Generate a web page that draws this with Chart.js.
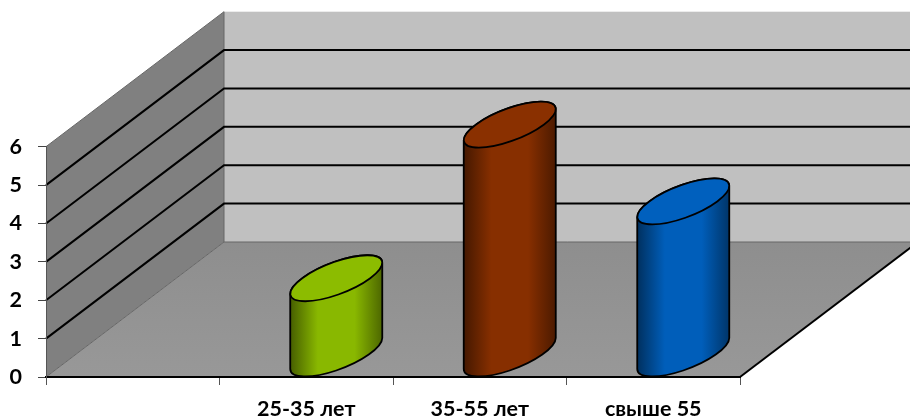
<!DOCTYPE html>
<html>
<head>
<meta charset="utf-8">
<title>Chart</title>
<script src="https://cdn.jsdelivr.net/npm/chart.js@4"></script>
<style>
  html, body { margin: 0; padding: 0; background: #fff; overflow: hidden; }
  canvas { display: block; }
</style>
</head>
<body>
<canvas id="ageChart" width="910" height="418"></canvas>
<script>
const categories = ['', '25-35 лет', '35-55 лет', 'свыше 55'];
const values = [null, 2, 6, 4];
const yTicks = [0, 1, 2, 3, 4, 5, 6];
const barColors = ['#8cbc00', '#8cbc00', '#8a3000', '#0060be'];

// how far the floor and the walls run back into the picture
const depthX = 178;
const depthY = 135;

// cylinder ellipse, sheared along the same depth direction
const ellA = 34;
const ellB = 31;
const ellC = 23;
const barShift = 30;

const shade = (hex, k) => {
    const n = parseInt(hex.slice(1), 16);
    const ch = s => Math.round(((n >> s) & 255) * k);
    return `rgb(${ch(16)},${ch(8)},${ch(0)})`;
};

const room3d = {
    id: 'room3d',
    beforeDraw(chart) {
        const { ctx, chartArea: a, scales: { y } } = chart;
        const { left, right, top, bottom } = a;
        ctx.save();

        // back wall
        ctx.fillStyle = '#c0c0c0';
        ctx.fillRect(left + depthX, top - depthY, right - left, bottom - top);

        // side wall
        ctx.fillStyle = '#808080';
        ctx.beginPath();
        ctx.moveTo(left, bottom);
        ctx.lineTo(left, top);
        ctx.lineTo(left + depthX, top - depthY);
        ctx.lineTo(left + depthX, bottom - depthY);
        ctx.closePath();
        ctx.fill();

        // floor
        const floor = ctx.createLinearGradient(0, bottom - depthY, 0, bottom);
        floor.addColorStop(0, '#8e8e8e');
        floor.addColorStop(1, '#989898');
        ctx.fillStyle = floor;
        ctx.beginPath();
        ctx.moveTo(left, bottom);
        ctx.lineTo(right, bottom);
        ctx.lineTo(right + depthX, bottom - depthY);
        ctx.lineTo(left + depthX, bottom - depthY);
        ctx.closePath();
        ctx.fill();

        // soft edges
        ctx.strokeStyle = '#666';
        ctx.lineWidth = 1;
        ctx.beginPath();
        ctx.moveTo(left, bottom);
        ctx.lineTo(left + depthX, bottom - depthY);
        ctx.lineTo(right + depthX, bottom - depthY);
        ctx.moveTo(left + depthX, bottom - depthY);
        ctx.lineTo(left + depthX, top - depthY);
        ctx.moveTo(left, top);
        ctx.lineTo(left + depthX, top - depthY);
        ctx.stroke();

        // grid lines on both walls
        ctx.strokeStyle = '#000';
        ctx.lineWidth = 2;
        yTicks.filter(v => v > 0 && v < 6).forEach(v => {
            const py = y.getPixelForValue(v);
            ctx.beginPath();
            ctx.moveTo(left, py);
            ctx.lineTo(left + depthX, py - depthY);
            ctx.lineTo(right + depthX, py - depthY);
            ctx.stroke();
        });

        // front right edge of the floor
        ctx.lineWidth = 2;
        ctx.beginPath();
        ctx.moveTo(right, bottom);
        ctx.lineTo(right + depthX, bottom - depthY);
        ctx.stroke();

        ctx.restore();
    },
    beforeDatasetsDraw(chart) {
        const { ctx } = chart;
        const meta = chart.getDatasetMeta(0);
        const t0 = Math.atan2(ellB, ellA);
        const half = Math.hypot(ellA, ellB);
        const side = ellC * ellB / half;

        meta.data.forEach((el, i) => {
            if (values[i] == null) return;
            const cx = el.x + barShift;
            const topY = el.y - ellC + 1;
            const baseY = el.base - ellC;
            const color = barColors[i];

            const unit = (cy) => ctx.transform(ellA, 0, ellB, -ellC, cx, cy);

            ctx.save();
            ctx.lineJoin = 'round';
            ctx.strokeStyle = '#000';
            ctx.lineWidth = 1.8;

            // body
            const grad = ctx.createLinearGradient(cx - half, 0, cx + half, 0);
            grad.addColorStop(0, shade(color, 0.5));
            grad.addColorStop(0.3, shade(color, 0.98));
            grad.addColorStop(0.7, shade(color, 0.98));
            grad.addColorStop(1, shade(color, 0.55));
            ctx.beginPath();
            ctx.moveTo(cx - half, topY + side);
            ctx.save();
            unit(baseY);
            ctx.arc(0, 0, 1, t0 + Math.PI, t0 + 2 * Math.PI);
            ctx.restore();
            ctx.save();
            unit(topY);
            ctx.arc(0, 0, 1, t0, t0 + Math.PI);
            ctx.restore();
            ctx.closePath();
            ctx.fillStyle = grad;
            ctx.fill();
            ctx.stroke();

            // top face
            ctx.beginPath();
            ctx.save();
            unit(topY);
            ctx.arc(0, 0, 1, 0, 2 * Math.PI);
            ctx.restore();
            ctx.closePath();
            ctx.fillStyle = color;
            ctx.fill();
            ctx.stroke();
            ctx.restore();
        });
        return false; // the cylinders replace the flat bars
    }
};

const labelFont = { family: 'Lato', size: 21.5, weight: 'bold' };

new Chart(document.getElementById('ageChart'), {
    type: 'bar',
    data: {
        labels: categories,
        datasets: [{ data: values, backgroundColor: barColors }]
    },
    options: {
        responsive: false,
        animation: false,
        events: [],
        layout: { padding: { top: 146.7, right: 170, left: 0, bottom: 0 } },
        plugins: { legend: { display: false }, tooltip: { enabled: false } },
        scales: {
            x: {
                afterFit: s => { s.height = 41; },
                grid: { drawOnChartArea: false, drawTicks: true, tickLength: 8, color: '#555' },
                border: { display: true, color: '#000', width: 2 },
                ticks: { color: '#000', font: labelFont, padding: 11, maxRotation: 0, autoSkip: false }
            },
            y: {
                min: 0,
                max: 6,
                afterFit: s => { s.width = 46; },
                afterBuildTicks: s => { s.ticks = yTicks.map(v => ({ value: v })); },
                grid: { drawOnChartArea: false, drawTicks: true, tickLength: 8, color: '#444' },
                border: { display: true, color: '#555', width: 1 },
                ticks: { color: '#000', font: labelFont, padding: 16 }
            }
        }
    },
    plugins: [room3d]
});
</script>
</body>
</html>
